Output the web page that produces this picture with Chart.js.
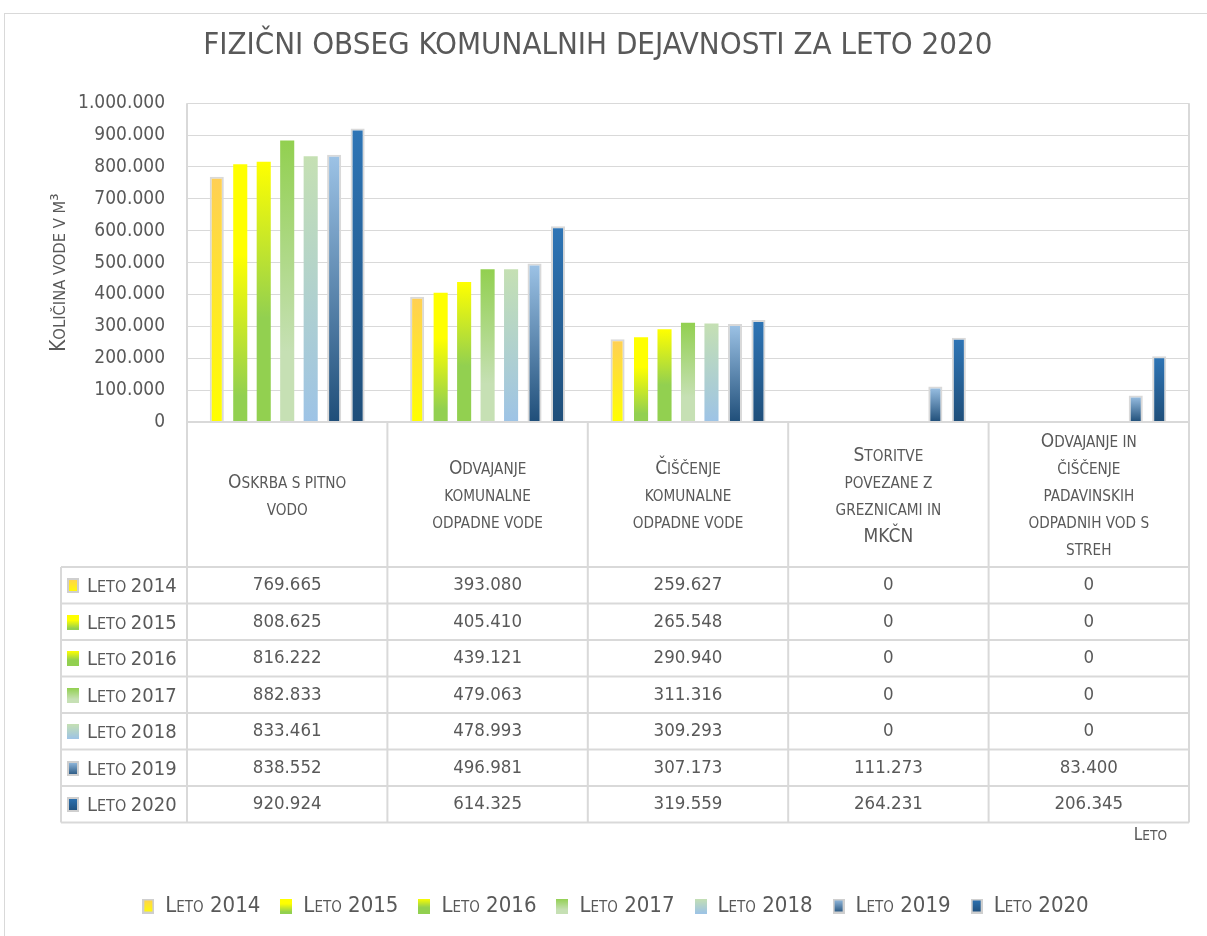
<!DOCTYPE html>
<html>
<head>
<meta charset="utf-8">
<title>Fizični obseg komunalnih dejavnosti za leto 2020</title>
<script src="https://cdn.jsdelivr.net/npm/chart.js@4.4.1/dist/chart.umd.min.js"></script>
<style>
  html, body { margin: 0; padding: 0; background: #fff; }
  canvas { display: block; }
</style>
</head>
<body>
<canvas id="myChart" width="1207" height="936"></canvas>
<script>
// Data
const categories = [
  ['Oskrba s pitno', 'vodo'],
  ['Odvajanje', 'komunalne', 'odpadne vode'],
  ['Čiščenje', 'komunalne', 'odpadne vode'],
  ['Storitve', 'povezane z', 'greznicami in', 'MKČN'],
  ['Odvajanje in', 'čiščenje', 'padavinskih', 'odpadnih vod s', 'streh']
];
const seriesLabels = ['Leto 2014', 'Leto 2015', 'Leto 2016', 'Leto 2017', 'Leto 2018', 'Leto 2019', 'Leto 2020'];
const leto2014 = [769665, 393080, 259627, 0, 0];
const leto2015 = [808625, 405410, 265548, 0, 0];
const leto2016 = [816222, 439121, 290940, 0, 0];
const leto2017 = [882833, 479063, 311316, 0, 0];
const leto2018 = [833461, 478993, 309293, 0, 0];
const leto2019 = [838552, 496981, 307173, 111273, 83400];
const leto2020 = [920924, 614325, 319559, 264231, 206345];
const yTicks = [0, 100000, 200000, 300000, 400000, 500000, 600000, 700000, 800000, 900000, 1000000];

const values = [leto2014, leto2015, leto2016, leto2017, leto2018, leto2019, leto2020];

// Styles
const FONT = '"Liberation Sans Narrow", "Arial Narrow", "DejaVu Sans Condensed", sans-serif';
const TEXT = '#595959';
const LINE = '#d9d9d9';
const gradients = [
  [[0, '#ffcf55'], [1, '#ffff00']],
  [[0, '#ffff00'], [0.35, '#ffff00'], [0.9, '#92d050'], [1, '#92d050']],
  [[0, '#ffff00'], [0.6, '#92d050'], [1, '#92d050']],
  [[0, '#92d050'], [0.75, '#c6e0b4'], [1, '#c6e0b4']],
  [[0, '#c5e0b3'], [1, '#9dc3e6']],
  [[0, '#9dc3e6'], [1, '#1f4e79']],
  [[0, '#2e75b6'], [1, '#1f4e79']]
];
const bordered = [true, false, false, false, false, true, true];

// thousands with dots
function fmt(v) {
  return v.toString().replace(/\B(?=(\d{3})+(?!\d))/g, '.');
}

// small caps like Excel: lower case letters drawn as smaller capitals
function drawSmallCaps(ctx, text, x, y, size, align) {
  const small = size * 0.8;
  const runs = [];
  for (const ch of text) {
    let s;
    if (ch === ' ') s = runs.length ? runs[runs.length - 1].size : size;
    else s = ch !== ch.toUpperCase() ? small : size;
    const c = ch.toUpperCase();
    if (runs.length && runs[runs.length - 1].size === s) runs[runs.length - 1].text += c;
    else runs.push({ text: c, size: s });
  }
  let total = 0;
  runs.forEach(r => {
    ctx.font = r.size + 'px ' + FONT;
    r.w = ctx.measureText(r.text).width;
    total += r.w;
  });
  let cx = align === 'center' ? x - total / 2 : (align === 'right' ? x - total : x);
  ctx.textAlign = 'left';
  ctx.textBaseline = 'alphabetic';
  const base = y + size * 0.36;
  runs.forEach(r => {
    ctx.font = r.size + 'px ' + FONT;
    ctx.fillText(r.text, cx, base);
    cx += r.w;
  });
}

function barGradient(stops) {
  return function (context) {
    const chart = context.chart;
    if (context.type !== 'data' || !chart.chartArea) return stops[0][1];
    const y = chart.scales.y;
    const top = y.getPixelForValue(context.parsed.y);
    const bottom = y.getPixelForValue(0);
    if (bottom - top < 1) return stops[0][1];
    const g = chart.ctx.createLinearGradient(0, top, 0, bottom);
    stops.forEach(s => g.addColorStop(s[0], s[1]));
    return g;
  };
}

function makeSwatch(stops, border) {
  const c = document.createElement('canvas');
  c.width = 12;
  c.height = 15;
  const g = c.getContext('2d');
  const grad = g.createLinearGradient(0, 0, 0, 15);
  stops.forEach(s => grad.addColorStop(s[0], s[1]));
  g.fillStyle = grad;
  g.fillRect(0, 0, 12, 15);
  if (border) {
    g.strokeStyle = '#cfcfcf';
    g.lineWidth = 2;
    g.strokeRect(1, 1, 10, 13);
  }
  return c;
}
const swatches = gradients.map((s, i) => makeSwatch(s, bordered[i]));

const datasets = seriesLabels.map((label, i) => ({
  label: label,
  data: values[i],
  backgroundColor: barGradient(gradients[i]),
  borderColor: LINE,
  borderWidth: bordered[i] ? 2 : 0
}));

// frame, y title and data table under the plot
const tablePlugin = {
  id: 'dataTable',
  beforeDraw(chart) {
    const ctx = chart.ctx;
    ctx.save();
    ctx.strokeStyle = LINE;
    ctx.lineWidth = 1;
    ctx.strokeRect(4.5, 13.5, 1250, 950);
    ctx.restore();
  },
  afterDraw(chart) {
    const { ctx, chartArea } = chart;
    const xScale = chart.scales.x;
    const n = categories.length;
    const catW = (chartArea.right - chartArea.left) / n;
    const top = chartArea.bottom;
    const headBottom = top + 145;
    const rowH = 36.5;
    const bottom = headBottom + rowH * seriesLabels.length;
    const labelLeft = 61;

    ctx.save();
    ctx.strokeStyle = LINE;
    ctx.lineWidth = 2;
    ctx.beginPath();
    ctx.moveTo(chartArea.left, top);
    ctx.lineTo(chartArea.right, top);
    for (let r = 0; r <= seriesLabels.length; r++) {
      const y = headBottom + r * rowH;
      ctx.moveTo(labelLeft, y);
      ctx.lineTo(chartArea.right, y);
    }
    for (let k = 0; k <= n; k++) {
      const x = chartArea.left + k * catW;
      const y0 = (k === 0 || k === n) ? chartArea.top : top;
      ctx.moveTo(x, y0);
      ctx.lineTo(x, bottom);
    }
    ctx.moveTo(labelLeft, headBottom);
    ctx.lineTo(labelLeft, bottom);
    ctx.stroke();

    ctx.fillStyle = TEXT;

    // y axis title
    ctx.save();
    ctx.translate(58, (chartArea.top + chartArea.bottom) / 2 + 10);
    ctx.rotate(-Math.PI / 2);
    drawSmallCaps(ctx, 'Količina vode v m³', 0, 0, 20.5, 'center');
    ctx.restore();

    // category headers
    categories.forEach((lines, i) => {
      const cx = xScale.getPixelForValue(i);
      const cy = (top + headBottom) / 2;
      lines.forEach((line, j) => {
        drawSmallCaps(ctx, line, cx, cy + (j - (lines.length - 1) / 2) * 27, 19, 'center');
      });
    });

    // rows
    chart.data.datasets.forEach((ds, r) => {
      const cy = headBottom + rowH * (r + 0.5);
      ctx.drawImage(swatches[r], 67, Math.round(cy - 7));
      drawSmallCaps(ctx, ds.label, 87, cy, 20, 'left');
      ctx.font = '18.5px ' + FONT;
      ctx.textAlign = 'center';
      ctx.textBaseline = 'middle';
      ds.data.forEach((v, i) => {
        ctx.fillText(fmt(v), xScale.getPixelForValue(i), cy);
      });
    });

    // x axis title
    drawSmallCaps(ctx, 'Leto', chartArea.right - 22, bottom + 11, 17, 'right');
    ctx.restore();
  }
};

const config = {
  type: 'bar',
  data: {
    labels: categories,
    datasets: datasets
  },
  options: {
    responsive: false,
    animation: false,
    layout: { padding: { left: 42, right: 18, top: 0, bottom: 9 } },
    datasets: {
      bar: { categoryPercentage: 0.82, barPercentage: 0.6 }
    },
    scales: {
      x: {
        grid: { display: false },
        border: { display: false },
        ticks: { display: false },
        afterFit(scale) { scale.height = 453; }
      },
      y: {
        min: 0,
        max: 1000000,
        afterFit(scale) { scale.width = 145; },
        afterBuildTicks(scale) { scale.ticks = yTicks.map(v => ({ value: v })); },
        grid: { color: LINE, lineWidth: 1, drawTicks: false },
        border: { display: false },
        ticks: {
          color: TEXT,
          padding: 22,
          font: { family: FONT, size: 19 },
          callback: v => fmt(v)
        }
      }
    },
    plugins: {
      title: {
        display: true,
        // trailing spaces move the centred title a little to the left
        text: 'FIZIČNI OBSEG KOMUNALNIH DEJAVNOSTI ZA LETO 2020\u00a0\u00a0\u00a0\u00a0',
        color: TEXT,
        padding: { top: 27, bottom: 39 },
        font: { family: FONT, size: 31, weight: 'normal', lineHeight: 1.2 }
      },
      legend: {
        position: 'bottom',
        labels: {
          usePointStyle: true,
          pointStyleWidth: 12,
          padding: 20,
          color: TEXT,
          font: { family: FONT, size: 22, weight: 'small-caps' },
          generateLabels(chart) {
            return chart.data.datasets.map((ds, i) => ({
              text: ds.label,
              pointStyle: swatches[i],
              fillStyle: '#fff',
              strokeStyle: 'transparent',
              lineWidth: 0,
              fontColor: TEXT,
              datasetIndex: i,
              hidden: false
            }));
          }
        }
      },
      tooltip: { enabled: false }
    }
  },
  plugins: [tablePlugin]
};

var myChart = new Chart(document.getElementById('myChart'), config);
</script>
</body>
</html>
